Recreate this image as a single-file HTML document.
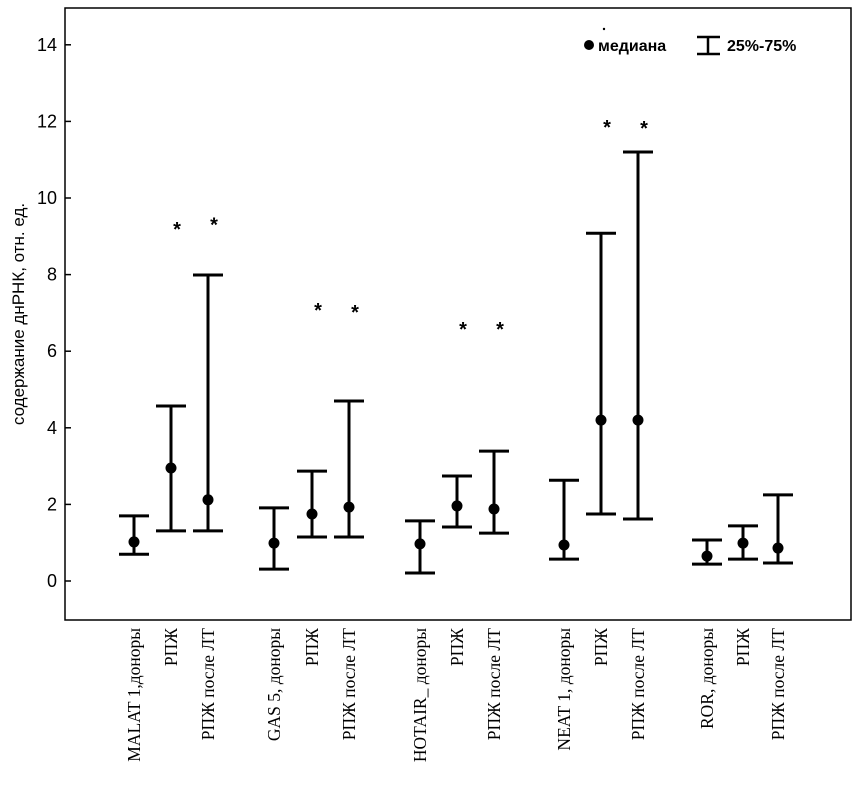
<!DOCTYPE html>
<html><head><meta charset="utf-8"><style>
body{margin:0;background:#fff}
svg text{fill:#000}
</style></head><body>
<svg id="chart" width="862" height="787" xmlns="http://www.w3.org/2000/svg"></svg>
<script>
const categories=["MALAT 1,доноры","РПЖ","РПЖ после ЛТ","GAS 5, доноры","РПЖ","РПЖ после ЛТ","HOTAIR_ доноры","РПЖ","РПЖ после ЛТ","NEAT 1, доноры","РПЖ","РПЖ после ЛТ","ROR, доноры","РПЖ","РПЖ после ЛТ"];
const medians=[1.02,2.95,2.12,0.99,1.75,1.93,0.97,1.96,1.88,0.94,4.2,4.2,0.65,0.99,0.86];
const q1=[0.70,1.31,1.31,0.31,1.15,1.15,0.21,1.41,1.25,0.57,1.75,1.62,0.44,0.57,0.47];
const q3=[1.70,4.57,7.99,1.91,2.87,4.70,1.57,2.74,3.39,2.63,9.08,11.2,1.07,1.44,2.25];
const stars=[null,9.27,9.38,null,7.15,7.1,null,6.66,6.66,null,11.93,11.91,null,null,null];
const yTicks=[0,2,4,6,8,10,12,14];
const xPos=[134,171,208,274,312,349,420,457,494,564,601,638,707,743,778];
const NS="http://www.w3.org/2000/svg";
const svg=document.getElementById('chart');
function el(t,a,p){const e=document.createElementNS(NS,t);for(const k in a)e.setAttribute(k,a[k]);(p||svg).appendChild(e);return e;}
const y=v=>581-v*38.3;
const frame=el('rect',{x:65,y:8,width:786,height:612,fill:'none',stroke:'#000','stroke-width':1.5});


yTicks.forEach(t=>{
 const l=el('line',{x1:65,x2:71,y1:y(t),y2:y(t),stroke:'#000','stroke-width':1.5});
 
 
 const tx=el('text',{x:57,y:y(t)+6,'text-anchor':'end','font-family':'Liberation Sans, sans-serif','font-size':18});
 tx.textContent=t;
 
 
});
const yt=el('text',{transform:'translate(24,314) rotate(-90)','text-anchor':'middle','font-family':'Liberation Sans, sans-serif','font-size':17});
yt.textContent='содержание днРНК, отн. ед.';


categories.forEach((c,i)=>{
 const x=xPos[i];
 const g=el('g',{});
 
 
 el('line',{x1:x,x2:x,y1:y(q1[i]),y2:y(q3[i]),stroke:'#000','stroke-width':3},g);
 el('line',{x1:x-15,x2:x+15,y1:y(q1[i]),y2:y(q1[i]),stroke:'#000','stroke-width':3},g);
 el('line',{x1:x-15,x2:x+15,y1:y(q3[i]),y2:y(q3[i]),stroke:'#000','stroke-width':3},g);
 const d=el('circle',{cx:x,cy:y(medians[i]),r:5.5,fill:'#000'});
 
 
 if(stars[i]!==null){
  const s=el('text',{x:x+6,y:y(stars[i])+10,'text-anchor':'middle','font-family':'Liberation Sans, sans-serif','font-size':20,'font-weight':'bold'});
  s.textContent='*';
  
  
 }
 const t=el('text',{transform:`translate(${x+6},628) rotate(-90)`,'text-anchor':'end','font-family':'Liberation Serif, serif','font-size':17.5});
 t.textContent=c;
 
 
});
const lg=el('g',{});


el('circle',{cx:589,cy:45,r:5,fill:'#000'},lg);
el('circle',{cx:604,cy:29,r:1.2,fill:'#000'},lg);
const lt1=el('text',{x:598,y:51,'font-family':'Liberation Sans, sans-serif','font-size':16,'font-weight':'bold'},lg);lt1.textContent='медиана';
el('line',{x1:708,x2:708,y1:37,y2:54,stroke:'#000','stroke-width':2.5},lg);
el('line',{x1:697,x2:720,y1:37,y2:37,stroke:'#000','stroke-width':2.5},lg);
el('line',{x1:697,x2:720,y1:54,y2:54,stroke:'#000','stroke-width':2.5},lg);
const lt2=el('text',{x:727,y:51,'font-family':'Liberation Sans, sans-serif','font-size':16,'font-weight':'bold'},lg);lt2.textContent='25%-75%';
</script>
</body></html>
